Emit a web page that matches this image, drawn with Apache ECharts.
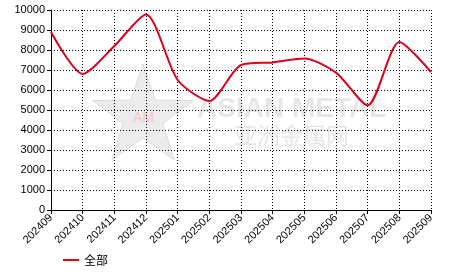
<!DOCTYPE html>
<html><head><meta charset="utf-8">
<script src="https://cdn.jsdelivr.net/npm/echarts@6/dist/echarts.min.js"></script>
<style>html,body{margin:0;padding:0;background:#fff}#c{width:466px;height:272px}</style>
</head><body><div id="c"></div>
<script>
var categories = ['202409','202410','202411','202412','202501','202502','202503','202504','202505','202506','202507','202508','202509'];
var values = [8900, 6800, 8200, 9780, 6500, 5450, 7250, 7380, 7580, 6870, 5230, 8400, 6900];
var seriesName = '全部';

var chart = echarts.init(document.getElementById('c'), null, {renderer:'canvas'});
function star(cx, cy, R, r){
  var pts=[];
  for(var i=0;i<10;i++){
    var a = -Math.PI/2 + i*Math.PI/5;
    var rr = i%2===0?R:r;
    pts.push([cx+rr*Math.cos(a), cy+rr*Math.sin(a)]);
  }
  return pts;
}
chart.setOption({
  animation:false,
  grid:{left:51,right:35,top:10,bottom:62,containLabel:false},
  graphic:[
    {type:'polygon',shape:{points:star(143,117,53,21)},style:{fill:'#ececec',stroke:'#dcdcdc',lineWidth:1},z:-1},
    {type:'text',left:133,top:111,style:{text:'AM',fill:'#f7c4c4',font:'14px Liberation Sans'},z:-1},
    {type:'text',left:197,top:95,style:{text:'ASIAN METAL',fill:'#e6e6e6',font:'bold 28px Liberation Sans'},z:-1},
    {type:'text',left:234,top:124,style:{text:'亚洲金属网',fill:'#e6e6e6',font:'23px "Noto Sans CJK SC"'},z:-1}
  ],
  legend:{left:58,top:249,itemWidth:16,itemHeight:2,icon:'rect',itemGap:5,
    textStyle:{fontSize:12,color:'#000',fontFamily:'Noto Sans CJK SC'},data:[seriesName]},
  xAxis:{type:'category',data:categories,boundaryGap:false,
    axisLine:{lineStyle:{color:'#000',width:1}},
    axisTick:{show:true,length:4,lineStyle:{color:'#000'},alignWithLabel:true},
    axisLabel:{rotate:45,fontSize:11,color:'#000',fontFamily:'Liberation Sans',margin:6,interval:0},
    splitLine:{show:true,lineStyle:{color:'#000',type:[1,2],width:1}}},
  yAxis:{type:'value',min:0,max:10000,interval:1000,
    axisLine:{show:true,lineStyle:{color:'#000'}},
    axisTick:{show:true,length:4,lineStyle:{color:'#000'}},
    axisLabel:{fontSize:11,color:'#000',fontFamily:'Liberation Sans',margin:6,formatter:function(v){return String(v);}},
    splitLine:{show:true,lineStyle:{color:'#000',type:[1,2],width:1}}},
  series:[{name:seriesName,type:'line',data:values,smooth:0.25,showSymbol:false,symbol:'none',
    lineStyle:{color:'#e0001b',width:2},itemStyle:{color:'#e0001b'}}]
});
</script></body></html>
